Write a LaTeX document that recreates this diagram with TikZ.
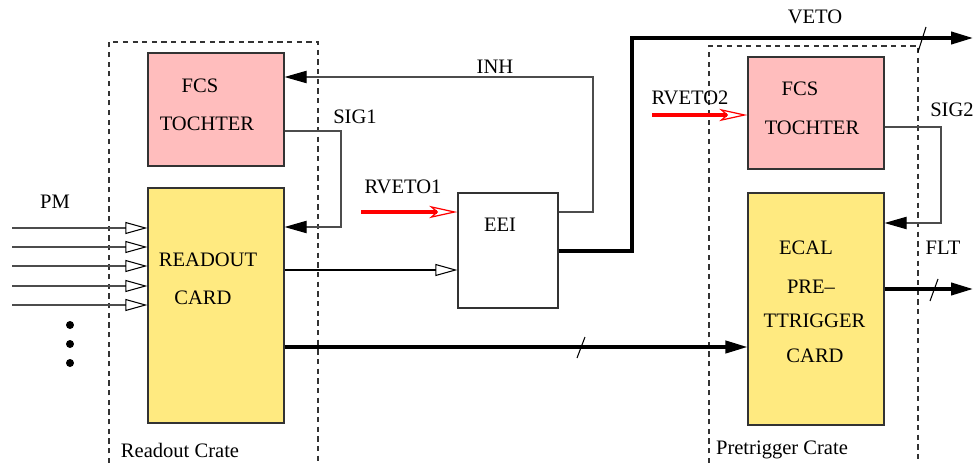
\documentclass[tikz,border=0pt]{standalone}
\usepackage{fontspec}
\setmainfont{Liberation Serif}
\usetikzlibrary{arrows.meta}
\definecolor{fcspink}{RGB}{255,189,189}
\definecolor{cardyellow}{RGB}{255,234,128}

\begin{document}
\begin{tikzpicture}[x=0.02cm,y=-0.02cm,
  box/.style={draw=black!80,line width=0.7pt,inner sep=0pt},
  txt/.style={font=\fontsize{11.7}{14}\selectfont,inner sep=0pt},
  thinline/.style={draw=black!70,line width=0.6pt},
  thickline/.style={line width=1.8pt},
  crate/.style={draw=black!80,line width=0.6pt,dash pattern=on 3pt off 2.5pt},
  fullhead/.style={-{Triangle[length=12.5pt,width=7pt,color=black]}},
  openhead/.style={-{Triangle[open,length=12.5pt,width=6.8pt,color=black]}},
  redarrow/.style={draw=red,line width=1.8pt,-{Stealth[open,length=16pt,width=7pt,inset=4pt,line width=0.7pt]}}]
\useasboundingbox (0,0) rectangle (974,463);

% crates
\draw[crate] (109,463) -- (109,42) -- (318,42) -- (318,463);
\draw[crate] (709,463) -- (709,46) -- (918,46) -- (918,463);
\node[txt] (crateA) at (180,450) {Readout Crate};
\node[txt] (crateB) at (782,450) {Pretrigger Crate};

% boxes
\node[box,fill=fcspink,minimum width=2.72cm,minimum height=2.26cm] (fcsA) at (216,109.5) {};
\node[box,fill=cardyellow,minimum width=2.72cm,minimum height=4.7cm] (readout) at (216,305.5) {};
\node[box,fill=white,minimum width=2cm,minimum height=2.3cm] (eei) at (508,250.5) {};
\node[box,fill=fcspink,minimum width=2.72cm,minimum height=2.24cm] (fcsB) at (816,113) {};
\node[box,fill=cardyellow,minimum width=2.72cm,minimum height=4.64cm] (ecal) at (816,309) {};

\node[txt] (fcsA-t1) at (200,86) {FCS};
\node[txt] (fcsA-t2) at (207,124) {TOCHTER};
\node[txt] (readout-t1) at (208,260) {READOUT};
\node[txt] (readout-t2) at (203,298) {CARD};
\node[txt] (eei-t) at (500,225) {EEI};
\node[txt] (fcsB-t1) at (800,89) {FCS};
\node[txt] (fcsB-t2) at (812,128) {TOCHTER};
\node[txt] (ecal-t1) at (806,248) {ECAL};
\node[txt] (ecal-t2) at (811,287) {PRE–};
\node[txt] (ecal-t3) at (814.5,321) {TTRIGGER};
\node[txt] (ecal-t4) at (815,356) {CARD};

% PM inputs
\node[txt] (pm) at (55,202) {PM};
\foreach \y [count=\i] in {228,247,266,286,305} {
  \coordinate (pm\i) at (12,\y);
  \draw[thinline,openhead] (pm\i) -- (readout.west |- pm\i);
}
\foreach \y in {325,344,363}
  \fill (70,\y) circle (0.8mm);

% INH
\coordinate (inhS) at (593,212);
\coordinate (inhT) at (593,77);
\draw[thinline,fullhead] (eei.east |- inhS) -- (inhS) -- (inhT) -- (fcsA.east |- inhT);
\node[txt] (inh) at (495,67) {INH};

% SIG1
\coordinate (sigA1) at (341,131);
\coordinate (sigA2) at (341,227);
\draw[thinline,fullhead] (fcsA.east |- sigA1) -- (sigA1) -- (sigA2) -- (readout.east |- sigA2);
\node[txt] (sig1) at (355,117) {SIG1};

% RVETO1
\coordinate (rv1) at (361,212);
\draw[redarrow] (rv1) -- (eei.west |- rv1);
\node[txt] (rveto1) at (403,187) {RVETO1};

% readout -> EEI
\draw[black,line width=0.6pt,openhead] (readout.east |- 0,270) -- (eei.west |- 0,270);

% VETO
\coordinate (vetoUp) at (632,251);
\coordinate (vetoTop) at (632,38);
\coordinate (vetoEnd) at (973,38);
\draw[thickline,fullhead] (eei.east |- vetoUp) -- (vetoUp) -- (vetoTop) -- (vetoEnd);
\draw[line width=0.6pt] (918,52) -- (926,27);
\node[txt] (veto) at (815,17) {VETO};

% RVETO2
\coordinate (rv2) at (652,115);
\draw[redarrow] (rv2) -- (fcsB.west |- rv2);
\node[txt] (rveto2) at (690,98) {RVETO2};

% SIG2
\coordinate (sigB1) at (941,127);
\coordinate (sigB2) at (941,223);
\draw[thinline,fullhead] (fcsB.east |- sigB1) -- (sigB1) -- (sigB2) -- (ecal.east |- sigB2);
\node[txt] (sig2) at (952,110) {SIG2};

% readout -> ECAL
\draw[thickline,fullhead] (readout.east |- 0,347) -- (ecal.west |- 0,347);
\draw[line width=0.6pt] (577,358) -- (585,337);

% FLT
\coordinate (fltEnd) at (973,289);
\draw[thickline,fullhead] (ecal.east |- fltEnd) -- (fltEnd);
\draw[line width=0.6pt] (930,301) -- (938,279);
\node[txt] (flt) at (943,248) {FLT};
\end{tikzpicture}
\end{document}
